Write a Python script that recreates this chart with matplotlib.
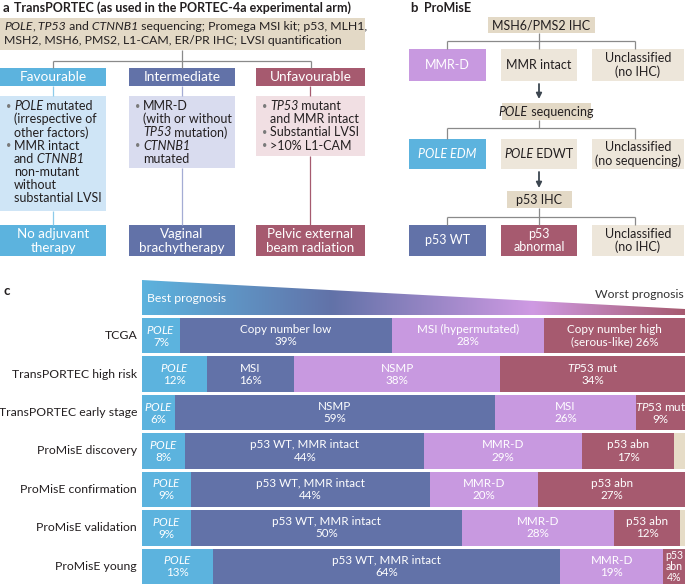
import numpy as np
import matplotlib
matplotlib.use('Agg')
import matplotlib.pyplot as plt
from matplotlib.patches import Rectangle, Polygon

plt.rcParams['font.family'] = ['Lato', 'DejaVu Sans']
plt.rcParams['mathtext.fontset'] = 'custom'
plt.rcParams['mathtext.rm'] = 'Lato'
plt.rcParams['mathtext.it'] = 'Lato:italic'
plt.rcParams['mathtext.bf'] = 'Lato:bold'

# panel c data
studies = ['TCGA', 'TransPORTEC high risk', 'TransPORTEC early stage',
           'ProMisE discovery', 'ProMisE confirmation', 'ProMisE validation',
           'ProMisE young']
pole = [7, 12, 6, 8, 9, 9, 13]
second = [39, 16, 59, 44, 44, 50, 64]
third = [28, 38, 26, 29, 20, 28, 19]
fourth = [26, 34, 9, 17, 27, 12, 4]
second_names = ['Copy number low', 'MSI', 'NSMP', 'p53 WT, MMR intact',
                'p53 WT, MMR intact', 'p53 WT, MMR intact', 'p53 WT, MMR intact']
third_names = ['MSI (hypermutated)', 'NSMP', 'MSI', 'MMR-D', 'MMR-D', 'MMR-D', 'MMR-D']
fourth_labels = ['Copy number high\n(serous-like) <p>%', r'$\mathit{TP53}$ mut' + '\n<p>%',
                 r'$\mathit{TP53}$ mut' + '\n<p>%', 'p53 abn\n<p>%', 'p53 abn\n<p>%',
                 'p53 abn\n<p>%', 'p53\nabn\n<p>%']
unclassified = [100 - a - b - c - d for a, b, c, d in zip(pole, second, third, fourth)]

LBLUE = '#5cb3de'
DBLUE = '#6272a8'
PURPLE = '#c899e0'
CRIMSON = '#a65a6f'
TAN = '#e3d9c6'
BEIGE = '#ede6da'
TXT = '#231f20'
GREY = '#8a8a8a'
FS = 9.0
BFS = 8.4

fig = plt.figure(figsize=(6.85, 5.84), dpi=100)
ax = fig.add_axes([0, 0, 1, 1])
ax.set_xlim(0, 685)
ax.set_ylim(584, 0)
ax.axis('off')
renderer = fig.canvas.get_renderer()


def box(x0, y0, x1, y1, color):
    ax.add_patch(Rectangle((x0, y0), x1 - x0, y1 - y0, facecolor=color, edgecolor='none'))


def line(xs, ys, color=GREY, lw=0.9):
    ax.plot(xs, ys, color=color, lw=lw, solid_capstyle='butt')


def rich(x, y, parts, fs=FS, color=TXT, ha='left'):
    # parts: list of (text, italic); placed one after another on one line
    texts, widths = [], []
    for s, it in parts:
        t = ax.text(0, y, s, fontsize=fs, color=color, va='center',
                    style='italic' if it else 'normal')
        texts.append(t)
        widths.append(t.get_window_extent(renderer).width)
    start = x if ha == 'left' else x - sum(widths) / 2
    for t, w in zip(texts, widths):
        t.set_x(start)
        start += w


# ---------- panel a ----------
ax.text(3, 8, 'a', fontsize=9.5, fontweight='bold', va='center', color=TXT)
ax.text(14, 8, 'TransPORTEC (as used in the PORTEC-4a experimental arm)', fontsize=9.0,
        fontweight='bold', va='center', color=TXT)
box(0, 18, 365, 50, TAN)
rich(4, 27, [('POLE', True), (',', False), (' TP53', True), (' and', False), (' CTNNB1', True),
             (' sequencing; Promega MSI kit; p53, MLH1,', False)], fs=8.8)
ax.text(4, 41, 'MSH2, MSH6, PMS2, L1-CAM, ER/PR IHC; LVSI quantification',
        fontsize=8.8, va='center', color=TXT)
line([182, 182], [50, 61])
line([53, 311], [61, 61])
for xc in [53, 182, 311]:
    line([xc, xc], [61, 68])

cols = [(0, 106, LBLUE, '#cfe5f6', '#8ccbea', 'Favourable', 211, 'No adjuvant\ntherapy'),
        (129, 235, DBLUE, '#d9dcef', '#a4acd4', 'Intermediate', 168, 'Vaginal\nbrachytherapy'),
        (256, 365, CRIMSON, '#f1dfe3', CRIMSON, 'Unfavourable', 156, 'Pelvic external\nbeam radiation')]
details = [
    [(True, [('POLE', True), (' mutated', False)]), (False, [('(irrespective of', False)]),
     (False, [('other factors)', False)]), (True, [('MMR intact', False)]),
     (False, [('and', False), (' CTNNB1', True)]), (False, [('non-mutant', False)]),
     (False, [('without', False)]), (False, [('substantial LVSI', False)])],
    [(True, [('MMR-D', False)]), (False, [('(with or without', False)]),
     (False, [('TP53', True), (' mutation)', False)]), (True, [('CTNNB1', True)]),
     (False, [('mutated', False)])],
    [(True, [('TP53', True), (' mutant', False)]), (False, [('and MMR intact', False)]),
     (True, [('Substantial LVSI', False)]), (True, [('>10% L1-CAM', False)])],
]
for (x0, x1, hcol, dcol, lcol, head, dbot, ther), det in zip(cols, details):
    xc = (x0 + x1) / 2
    box(x0, 68, x1, 86, hcol)
    ax.text(xc, 77, head, fontsize=9.8, color='white', ha='center', va='center')
    line([xc, xc], [86, 96], color=lcol)
    box(x0, 96, x1, dbot, dcol)
    for i, (bullet, parts) in enumerate(det):
        yy = 106 + i * 13.2
        if bullet:
            ax.text(x0 + 6, yy, '•', fontsize=6.5, color='#7a7a7a', va='center')
        rich(x0 + 14, yy, parts)
    line([xc, xc], [dbot, 225], color=lcol)
    box(x0, 225, x1, 256, hcol)
    ax.text(xc, 241, ther, fontsize=9.6, color='white', ha='center', va='center',
            linespacing=1.1)

# ---------- panel b ----------
ax.text(410, 8, 'b', fontsize=9.5, fontweight='bold', va='center', color=TXT)
ax.text(424, 8, 'ProMisE', fontsize=9.0, fontweight='bold', va='center', color=TXT)

box(488, 17, 595, 33, TAN)
ax.text(541, 25, 'MSH6/PMS2 IHC', fontsize=FS, ha='center', va='center', color=TXT)
line([539, 539], [33, 41])
line([447, 635], [41, 41])
for xc in [447, 539, 635]:
    line([xc, xc], [41, 49])

rows_b = [
    (49, 81, [(PURPLE, [('MMR-D', False)], 'white'), (BEIGE, [('MMR intact', False)], TXT),
              (BEIGE, 'Unclassified\n(no IHC)', TXT)]),
    (139, 169, [(LBLUE, [('POLE EDM', True)], 'white'),
                (BEIGE, [('POLE', True), (' EDWT', False)], TXT),
                (BEIGE, 'Unclassified\n(no sequencing)', TXT)]),
    (225, 256, [(DBLUE, [('p53 WT', False)], 'white'), (CRIMSON, 'p53\nabnormal', 'white'),
                (BEIGE, 'Unclassified\n(no IHC)', TXT)]),
]
xs_b = [(409, 486), (501, 577), (592, 684)]
for y0, y1, items in rows_b:
    for (x0, x1), (col, s, tc) in zip(xs_b, items):
        box(x0, y0, x1, y1, col)
        if isinstance(s, str):
            ax.text((x0 + x1) / 2, (y0 + y1) / 2, s, fontsize=FS, ha='center', va='center',
                    color=tc, linespacing=1.05)
        else:
            rich((x0 + x1) / 2, (y0 + y1) / 2, s, color=tc, ha='center')

arrow = dict(arrowstyle='-|>', color='#3c4650', lw=1.3, mutation_scale=8, shrinkA=0, shrinkB=0)
ax.annotate('', xy=(539, 99), xytext=(539, 84), arrowprops=arrow)
box(502, 103, 591, 120, TAN)
rich(546, 111.5, [('POLE', True), (' sequencing', False)], ha='center')
line([539, 539], [120, 128])
line([447, 635], [128, 128])
for xc in [447, 635]:
    line([xc, xc], [128, 139])

ax.annotate('', xy=(539, 188), xytext=(539, 172), arrowprops=arrow)
box(507, 191, 572, 208, TAN)
ax.text(539.5, 199.5, 'p53 IHC', fontsize=FS, ha='center', va='center', color=TXT)
line([539, 539], [208, 225])
line([447, 635], [217, 217])
for xc in [447, 635]:
    line([xc, xc], [217, 225])

# ---------- panel c ----------
ax.text(4, 291, 'c', fontsize=9.5, fontweight='bold', va='center', color=TXT)

grad = np.linspace(0, 1, 512)
stops = [0.0, 0.35, 0.72, 1.0]
stop_cols = [matplotlib.colors.to_rgb(c) for c in [LBLUE, DBLUE, '#cf9ae3', CRIMSON]]
rgb = np.array([[np.interp(g, stops, [c[k] for c in stop_cols]) for k in range(3)] for g in grad])
im = ax.imshow(rgb[np.newaxis, :, :], extent=(142, 685, 315, 280), aspect='auto', zorder=1)
wedge = Polygon([(142, 280), (685, 309), (685, 315), (142, 315)], closed=True,
                facecolor='none', edgecolor='none')
ax.add_patch(wedge)
im.set_clip_path(wedge)
ax.text(147, 299, 'Best prognosis', fontsize=8.8, color='white', va='center', zorder=3)
ax.text(684, 295, 'Worst prognosis', fontsize=8.8, color='#333333', ha='right', va='center', zorder=3)

bx = fig.add_axes([142 / 685, 0, 543 / 685, 266 / 584])
bx.set_xlim(0, 100)
bx.set_ylim(6.46, -0.46)
bx.axis('off')
ypos = np.arange(len(studies))
h = 0.92
left = np.zeros(len(studies))
for vals, col in [(pole, LBLUE), (second, DBLUE), (third, PURPLE), (fourth, CRIMSON),
                  (unclassified, '#e6dcc7')]:
    bx.barh(ypos, vals, left=left, height=h, color=col, edgecolor='none')
    left = left + np.array(vals)

for i in range(len(studies)):
    bx.text(-0.9, i, studies[i], fontsize=8.8, ha='right', va='center', color=TXT)
    x = 0
    segs = [(pole[i], r'$\mathit{POLE}$' + '\n%d%%' % pole[i]),
            (second[i], '%s\n%d%%' % (second_names[i], second[i])),
            (third[i], '%s\n%d%%' % (third_names[i], third[i])),
            (fourth[i], fourth_labels[i].replace('<p>', str(fourth[i])))]
    for v, s in segs:
        fs = BFS if s.count('\n') < 2 else 7.6
        bx.text(x + v / 2, i, s, fontsize=fs, ha='center', va='center', color='white',
                linespacing=1.0 if s.count('\n') > 1 else 1.12)
        x += v

fig.savefig('out.png', dpi=100)
